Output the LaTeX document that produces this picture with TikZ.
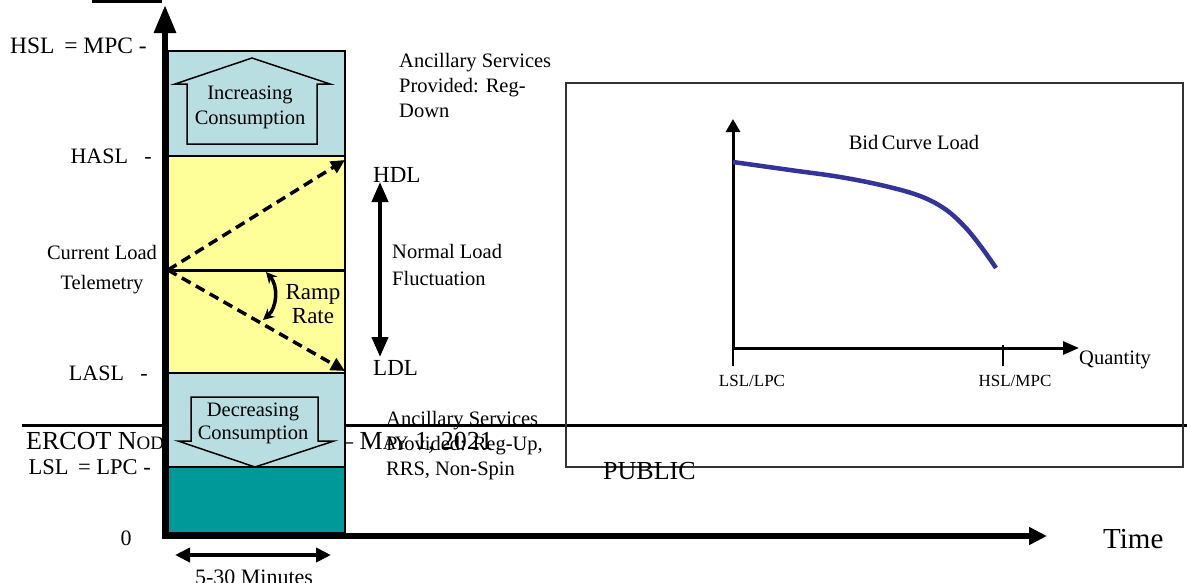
\documentclass[tikz,border=0pt]{standalone}
\usepackage{fontspec}
\setmainfont{Liberation Serif}
\usetikzlibrary{arrows.meta}
\definecolor{lblue}{RGB}{184,222,226}
\definecolor{pyellow}{RGB}{255,255,153}
\definecolor{tealdark}{RGB}{0,153,153}
\definecolor{curveblue}{RGB}{51,51,153}
\begin{document}
\begin{tikzpicture}[x=1pt,y=-1pt,
  txt/.style={inner sep=0pt, font=\fontsize{20.5}{25}\selectfont},
  axislbl/.style={inner sep=0pt, font=\fontsize{22}{26}\selectfont, anchor=base east},
  band/.style={draw=black, line width=2.5pt},
  bigaxis/.style={line width=6pt},
  dashedarrow/.style={line width=3.5pt, dash pattern=on 10pt off 6pt, -{Triangle[width=13pt,length=14pt]}},
  smallaxis/.style={line width=3pt},
  tick/.style={line width=1.3pt}]
\useasboundingbox (0,0) rectangle (1187,582);

% coordinates
\coordinate (fl) at (22,425);
\coordinate (fr) at (1187,425);
\coordinate (o) at (165,536);
\coordinate (ybot) at (165,539);
\coordinate (xstart) at (162,536);
\coordinate (ytip) at (165,5);
\coordinate (xtip) at (1047,536);
\coordinate (cur) at (168,270);
\coordinate (curR) at (345,270);
\coordinate (hdlpt) at (345,160);
\coordinate (ldlpt) at (345,371);
\coordinate (nlTop) at (380,182);
\coordinate (nlBot) at (380,357);
\coordinate (r1) at (266,272);
\coordinate (r2) at (263,320);
\coordinate (mL) at (175,555);
\coordinate (mR) at (331,555);
\coordinate (co) at (733,348);
\coordinate (cytip) at (733,119);
\coordinate (cxtip) at (1079,348);
\coordinate (t1a) at (733,348);
\coordinate (t1b) at (733,366);
\coordinate (t2a) at (1003,345);
\coordinate (t2b) at (1003,366);
\coordinate (barL) at (92,1.5);
\coordinate (barR) at (162,1.5);

% header / footer artefacts
\draw[line width=3pt] (barL) -- (barR);
\draw[line width=3pt] (fl) -- (fr);
\node[inner sep=0pt, font=\fontsize{26}{30}\selectfont, anchor=base west] (footA) at (26,449)
  {ERCOT N{\fontsize{19}{22}\selectfont ODAL} P{\fontsize{19}{22}\selectfont ROTOCOLS}};
\node[inner sep=0pt, font=\fontsize{26}{30}\selectfont, anchor=base west] (footB) at (340,449)
  {– M{\fontsize{19}{22}\selectfont AY} 1, 2021};

% column bands
\filldraw[band, fill=lblue] (168,51) rectangle (345,156);
\filldraw[band, fill=pyellow] (168,156) rectangle (345,373);
\filldraw[band, fill=lblue] (168,373) rectangle (345,467);
\filldraw[band, fill=tealdark] (168,467) rectangle (345,533);
\draw[line width=3pt] (cur) -- (curR);

% block arrows
\filldraw[fill=lblue, draw=black, line width=1.5pt]
  (187,144) -- (187,84) -- (175,84) -- (252,58) -- (330,84) -- (317,84) -- (317,144) -- cycle;
\filldraw[fill=lblue, draw=black, line width=1.5pt]
  (191,397) -- (318,397) -- (318,441) -- (334,441) -- (255,467) -- (178,441) -- (191,441) -- cycle;
\node[txt, align=center, anchor=north] (inc) at (250,86) {Increasing\\Consumption};
\node[txt, align=center, anchor=north, font=\fontsize{20.5}{23}\selectfont] (dec) at (253,403) {Decreasing\\Consumption};

% dashed ramps
\draw[dashedarrow] (cur) -- (hdlpt);
\draw[dashedarrow] (cur) -- (ldlpt);
\draw[line width=3.5pt, {Stealth[length=11pt,width=11pt]}-{Stealth[length=11pt,width=11pt]}] (r1) to[bend left=45] (r2);
\node[inner sep=0pt, font=\fontsize{23}{24}\selectfont, align=center, anchor=north] (ramp) at (313,284) {Ramp\\Rate};

% axes
\draw[bigaxis, -{Triangle[width=21pt,length=28pt]}] (ybot) -- (ytip);
\draw[bigaxis, -{Triangle[width=17pt,length=18pt]}] (xstart) -- (xtip);

% normal load fluctuation
\draw[line width=4pt, {Triangle[width=16pt,length=20pt]}-{Triangle[width=16pt,length=20pt]}] (nlTop) -- (nlBot);
\node[inner sep=0pt, font=\fontsize{23}{26}\selectfont, anchor=base west] (hdl) at (373,182) {HDL};
\node[inner sep=0pt, font=\fontsize{23}{26}\selectfont, anchor=base west] (ldl) at (373,375) {LDL};
\node[txt, align=left, anchor=north west, font=\fontsize{20.5}{27}\selectfont] (nlf) at (392,244) {Normal Load\\Fluctuation};

% left labels
\node[axislbl, font=\fontsize{23.5}{26}\selectfont] (hsl) at (147,53) {HSL\, = MPC -};
\node[axislbl] (hasl) at (152,163) {HASL\ \ \ -};
\node[axislbl] (lasl) at (148,380) {LASL\ \ \ -};
\node[axislbl, font=\fontsize{22.5}{26}\selectfont] (lsl) at (151,474) {LSL\, = LPC -};
\node[axislbl, anchor=base] (zero) at (126,545) {0};
\node[txt, align=center, anchor=north, font=\fontsize{20.5}{30}\selectfont] (clt) at (102,245) {Current\ Load\\Telemetry};

% ancillary services
\node[txt, align=left, anchor=north west] (asTop) at (399,53) {Ancillary Services\\Provided: Reg-\\Down};
\node[txt, align=left, anchor=north west] (asBot) at (386,411) {Ancillary Services\\Provided: Reg-Up,\\RRS, Non-Spin};

% time span
\draw[line width=4pt, {Triangle[width=14pt,length=15pt]}-{Triangle[width=14pt,length=15pt]}] (mL) -- (mR);
\node[inner sep=0pt, font=\fontsize{22}{26}\selectfont, anchor=base] (mins) at (254,584) {5-30 Minutes};
\node[inner sep=0pt, font=\fontsize{29}{32}\selectfont, anchor=base west] (time) at (1103,548) {Time};

% bid curve box
\draw[line width=2.5pt, draw=black!80] (566,83) rectangle (1183,467);
\draw[smallaxis, -{Triangle[width=14pt,length=13pt]}] (co) -- (cytip);
\draw[smallaxis, -{Triangle[width=13pt,length=16pt]}] (co) -- (cxtip);
\draw[tick] (t1a) -- (t1b);
\draw[tick] (t2a) -- (t2b);
\draw[curveblue, line width=4.5pt] plot[smooth, tension=0.6] coordinates
  {(733,162) (790,170) (840,177) (885,186) (920,196) (945,209) (965,227) (982,248) (996,268)};
\node[txt, anchor=base] (bcl) at (914,149) {Bid\,Curve Load};
\node[inner sep=0pt, font=\fontsize{17}{20}\selectfont, anchor=base] (lsllbl) at (752,386) {LSL/LPC};
\node[inner sep=0pt, font=\fontsize{17}{20}\selectfont, anchor=base] (hsllbl) at (1015,386) {HSL/MPC};
\node[txt, anchor=base west] (qty) at (1079,364) {Quantity};
\node[inner sep=0pt, font=\fontsize{26}{30}\selectfont, anchor=base west] (pub) at (603,479) {PUBLIC};
\end{tikzpicture}
\end{document}
